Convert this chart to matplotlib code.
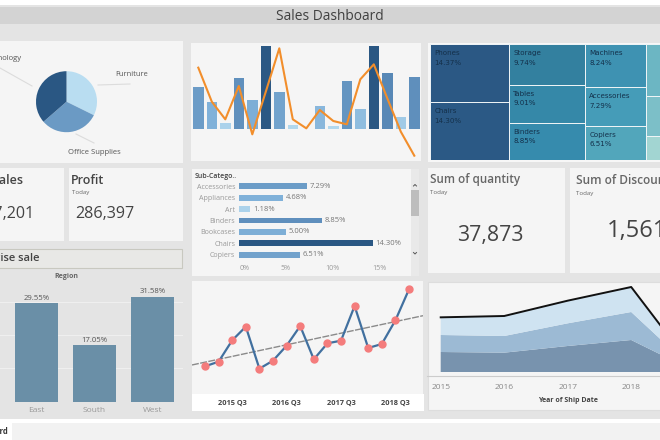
import numpy as np
import matplotlib
matplotlib.use("Agg")
import matplotlib.pyplot as plt
from matplotlib.colors import LinearSegmentedColormap
from matplotlib.patches import Rectangle

W, H = 660, 440

pie_labels = ["Furniture", "Office Supplies", "Technology"]
pie_values = [32.3, 31.3, 36.4]

combo_bars = [127, 82, 20, 154, 88, 249, 113, 12, 0, 70, 10, 144, 60, 251, 170, 36, 156]
combo_line = [185, 83, 30, 130, -15, 113, 243, 30, 3, 58, 25, 15, 150, 195, 93, -7, -79]

tree_cols = [
    [("Phones", 14.37), ("Chairs", 14.30)],
    [("Storage", 9.74), ("Tables", 9.01), ("Binders", 8.85)],
    [("Machines", 8.24), ("Accessories", 7.29), ("Copiers", 6.51)],
    [("", 5.00), ("", 3.92), ("", 2.32)],
]
tree_colors = [
    ["#2b5884", "#2b5985"],
    ["#33809f", "#3588a8", "#368bad"],
    ["#3e92b2", "#459cb8", "#52a6bb"],
    ["#6cb6c3", "#7cbfc8", "#a2d5d2"],
]

sub_names = ["Accessories", "Appliances", "Art", "Binders", "Bookcases", "Chairs", "Copiers"]
sub_values = [7.29, 4.68, 1.18, 8.85, 5.00, 14.30, 6.51]

region_names = ["Central", "East", "South", "West"]
region_values = [21.82, 29.55, 17.05, 31.58]

quarter_values = [126, 140, 204, 245, 119, 143, 188, 247, 147, 195, 203, 307, 181, 193, 264, 357]
quarter_ticks = [2, 6, 10, 14]
quarter_labels = ["2015 Q3", "2016 Q3", "2017 Q3", "2018 Q3"]

years = [2015, 2016, 2017, 2018, 2019]
area_dark = [60, 58, 78, 96, 2]
area_mid = [51, 50, 68, 84, 1]
area_light = [53, 60, 68, 75, 2]

plt.rcParams["font.family"] = ["Open Sans", "DejaVu Sans"]
blues = LinearSegmentedColormap.from_list("tab_blue", ["#b9ddf1", "#7fb0d8", "#5a8ab8", "#2a5783"])


def px_axes(x0, y0, x1, y1):
    # axes placed by pixel box, y counted from the top
    ax = fig.add_axes([x0 / W, 1 - y1 / H, (x1 - x0) / W, (y1 - y0) / H])
    ax.patch.set_alpha(0)
    for s in ax.spines.values():
        s.set_visible(False)
    return ax


def panel(x0, y0, x1, y1, color="#f5f5f5", edge="none"):
    bg.add_patch(Rectangle((x0, y0), x1 - x0, y1 - y0, facecolor=color, edgecolor=edge, lw=0.8))


fig = plt.figure(figsize=(W / 100, H / 100), dpi=100, facecolor="white")
bg = fig.add_axes([0, 0, 1, 1])
bg.set_xlim(0, W)
bg.set_ylim(H, 0)
bg.axis("off")

# page background and title
panel(0, 5, W, 419, "#e4e4e4")
panel(0, 7, W, 24, "#d3d3d3")
panel(12, 423, W, H, "#f2f2f2")
bg.text(330, 16, "Sales Dashboard", ha="center", va="center", fontsize=9.9, color="#404040")
bg.text(8, 431, "Dashboard", ha="right", va="center", fontsize=5.5, weight="bold", color="#333333")

# panels
panel(-2, 41, 183, 163)
panel(191, 43, 421, 161)
panel(428, 43, W + 2, 162, "#f7f7f7")
panel(-2, 168, 64, 241)
panel(69, 168, 183, 241)
panel(192, 169, 419, 276)
panel(428, 168, 565, 273)
panel(570, 168, W + 2, 273)
panel(-2, 249, 182, 268, "#e8e8e6", "#c8c8c0")
panel(192, 281, 423, 394)
panel(192, 394, 424, 411, "white")
panel(428, 282, W + 2, 410, "#f5f5f5", "#dddddd")

# pie
ax = px_axes(36, 71.2, 97, 132.2)
ax.pie(pie_values, colors=["#b9ddf1", "#6b9ac4", "#2a5783"], startangle=90, counterclock=False, radius=1)
ax.set_xlim(-1, 1)
ax.set_ylim(-1, 1)
for (xs, ys) in [((0, 32), (68, 86)), ((98, 130), (85, 84)), ((76, 94), (134, 143))]:
    bg.plot(xs, ys, color="#dcdcdc", lw=0.8)
bg.text(22, 58, pie_labels[2], ha="right", va="center", fontsize=5.5, color="#555555")
bg.text(115, 75, pie_labels[0], ha="left", va="center", fontsize=5.4, color="#555555")
bg.text(68, 152.5, pie_labels[1], ha="left", va="center", fontsize=5.5, color="#555555")

# bars with line
ax = px_axes(191, 43, 421, 161)
n = np.arange(len(combo_bars))
ax.set_xlim((191 - 198.3) / 13.5, (421 - 198.3) / 13.5)
ax.set_ylim(-95, 259)
ax.bar(n, combo_bars, width=0.78, color=blues(np.array(combo_bars) / 251))
ax.plot(n, combo_line, color="#f28e2b", lw=1.5)
ax.set_xticks([])
ax.set_yticks([])

# treemap
ax = px_axes(430, 44, 660, 160)
ax.set_xlim(0, 230 / 2.753)
ax.set_ylim(1, 0)
ax.set_xticks([])
ax.set_yticks([])
left = 0
for col, cols in zip(tree_cols, tree_colors):
    total = sum(v for _, v in col)
    top = 0
    for (name, val), c in zip(col, cols):
        h = val / total
        ax.add_patch(Rectangle((left, top), total, h, facecolor=c, edgecolor="#f0f5f7", lw=0.7))
        if name:
            ax.annotate(name, (left, top), xytext=(3.2, -4.2), textcoords="offset points", va="top",
                        fontsize=5.1, color="#14304a", family="DejaVu Sans")
            ax.annotate(f"{val:.2f}%", (left, top), xytext=(3.2, -11.2), textcoords="offset points", va="top",
                        fontsize=5.1, color="#14304a", family="DejaVu Sans")
        top += h
    left += total

# KPI cards
bg.text(23, 180, "Sales", ha="right", va="center", fontsize=9, color="#444444", weight="semibold")
bg.text(71, 181, "Profit", ha="left", va="center", fontsize=9, color="#444444", weight="semibold")
bg.text(72.5, 192.5, "Today", ha="left", va="center", fontsize=4.4, color="#666666")
bg.text(34, 214, "287,201", ha="right", va="center", fontsize=11.6, color="#444444")
bg.text(104.5, 214, "286,397", ha="center", va="center", fontsize=11.6, color="#444444")
bg.text(429.5, 180, "Sum of quantity", ha="left", va="center", fontsize=8.4, color="#666666", weight="semibold")
bg.text(429.5, 192.5, "Today", ha="left", va="center", fontsize=4.4, color="#666666")
bg.text(490, 235, "37,873", ha="center", va="center", fontsize=15.3, color="#444444")
bg.text(576, 181, "Sum of Discount", ha="left", va="center", fontsize=8.6, color="#666666", weight="semibold",
        clip_on=True)
bg.text(576, 193, "Today", ha="left", va="center", fontsize=4.4, color="#666666")
bg.text(607, 231, "1,561", ha="left", va="center", fontsize=17, color="#444444")

# sub-category bars
ax = px_axes(239.3, 180, 405, 261)
ax.set_xlim(0, (405 - 239.3) / 9.33)
ax.set_ylim(6.55, -0.55)
ypos = np.arange(len(sub_names))
ax.barh(ypos, sub_values, height=0.52, color=blues(np.array(sub_values) / 14.3))
for y, v in zip(ypos, sub_values):
    ax.annotate(f"{v:.2f}%", (v, y), xytext=(2, 0), textcoords="offset points", va="center",
                fontsize=5.5, color="#777777")
ax.set_yticks(ypos, sub_names)
ax.set_xticks([0, 5, 10, 15], ["0%", "5%", "10%", "15%"])
ax.get_xticklabels()[0].set_ha("left")
ax.tick_params(length=0, labelsize=5.1, labelcolor="#999999", pad=3)
bg.text(195, 176, "Sub-Catego..", ha="left", va="center", fontsize=5, color="#444444", weight="semibold")
# scrollbar
panel(411, 169, 419, 276, "#e9e9e9")
panel(411, 190.5, 419, 216, "#bdbdbd")
bg.plot([413.5, 415, 416.5], [186, 184.5, 186], color="#555555", lw=0.7)
bg.plot([413.5, 415, 416.5], [252.5, 254, 252.5], color="#555555", lw=0.7)

# region bars
bg.text(39, 258.5, "Region wise sale", ha="right", va="center", fontsize=8, color="#444444", weight="semibold")
bg.text(66, 276, "Region", ha="center", va="center", fontsize=5, color="#666666", weight="bold")
ax = px_axes(0, 282, 183, 401.7)
ax.set_xlim(21.5 / 58, (183 + 21.5) / 58)
ax.set_ylim(0, 119.7 / 3.325)
xr = np.arange(len(region_names))
ax.yaxis.grid(True, color="#f0f0f0", lw=0.7)
ax.set_axisbelow(True)
ax.bar(xr, region_values, width=0.75, color="#6a8fa7")
for x, v in zip(xr, region_values):
    ax.text(x, v + 0.4, f"{v:.2f}%", ha="center", va="bottom", fontsize=5.6, color="#555555")
ax.set_yticks([10, 20, 30], [])
ax.set_xticks(xr[1:], region_names[1:])
ax.tick_params(length=0, labelsize=6, labelcolor="#999999", pad=4)

# quarterly line with trend
ax = px_axes(192, 281, 423, 394)
qn = np.arange(len(quarter_values))
ax.set_xlim((192 - 205) / 13.6, (423 - 205) / 13.6)
ax.set_ylim(43, 382)
slope, icpt = np.polyfit(qn, quarter_values, 1)
tx = np.array(ax.get_xlim())
ax.plot(tx, slope * tx + icpt, color="#8a8a8a", lw=1, ls=(0, (5, 1)))
ax.plot(qn, quarter_values, color="#41709f", lw=1.6, marker="o", ms=5, mfc="#f47c7c", mec="#f47c7c")
ax.set_yticks([])
ax.set_xticks(quarter_ticks, quarter_labels)
ax.tick_params(length=0, labelsize=5.3, labelcolor="#444444", pad=4)
for t in ax.get_xticklabels():
    t.set_weight("bold")

# stacked area
ax = px_axes(427, 282, 660, 376)
ax.set_xlim(2015 - (440.7 - 427) / 63.5, 2015 + (660 - 440.7) / 63.5)
ax.set_ylim(-12, 270)
ax.stackplot(years, area_dark, area_mid, area_light, colors=["#7893ae", "#9cbad4", "#cfe3f1"])
ax.plot(years, np.array(area_dark) + np.array(area_mid) + np.array(area_light), color="#111111", lw=1.4)
ax.spines["bottom"].set_visible(True)
ax.spines["bottom"].set_color("#cccccc")
ax.set_yticks([])
ax.set_xticks(years[:4], [str(y) for y in years[:4]])
ax.tick_params(length=0, labelsize=6, labelcolor="#888888", pad=5.5)
bg.text(568, 400, "Year of Ship Date", ha="center", va="center", fontsize=5, weight="bold", color="#444444")

fig.savefig("out.png", dpi=100)
